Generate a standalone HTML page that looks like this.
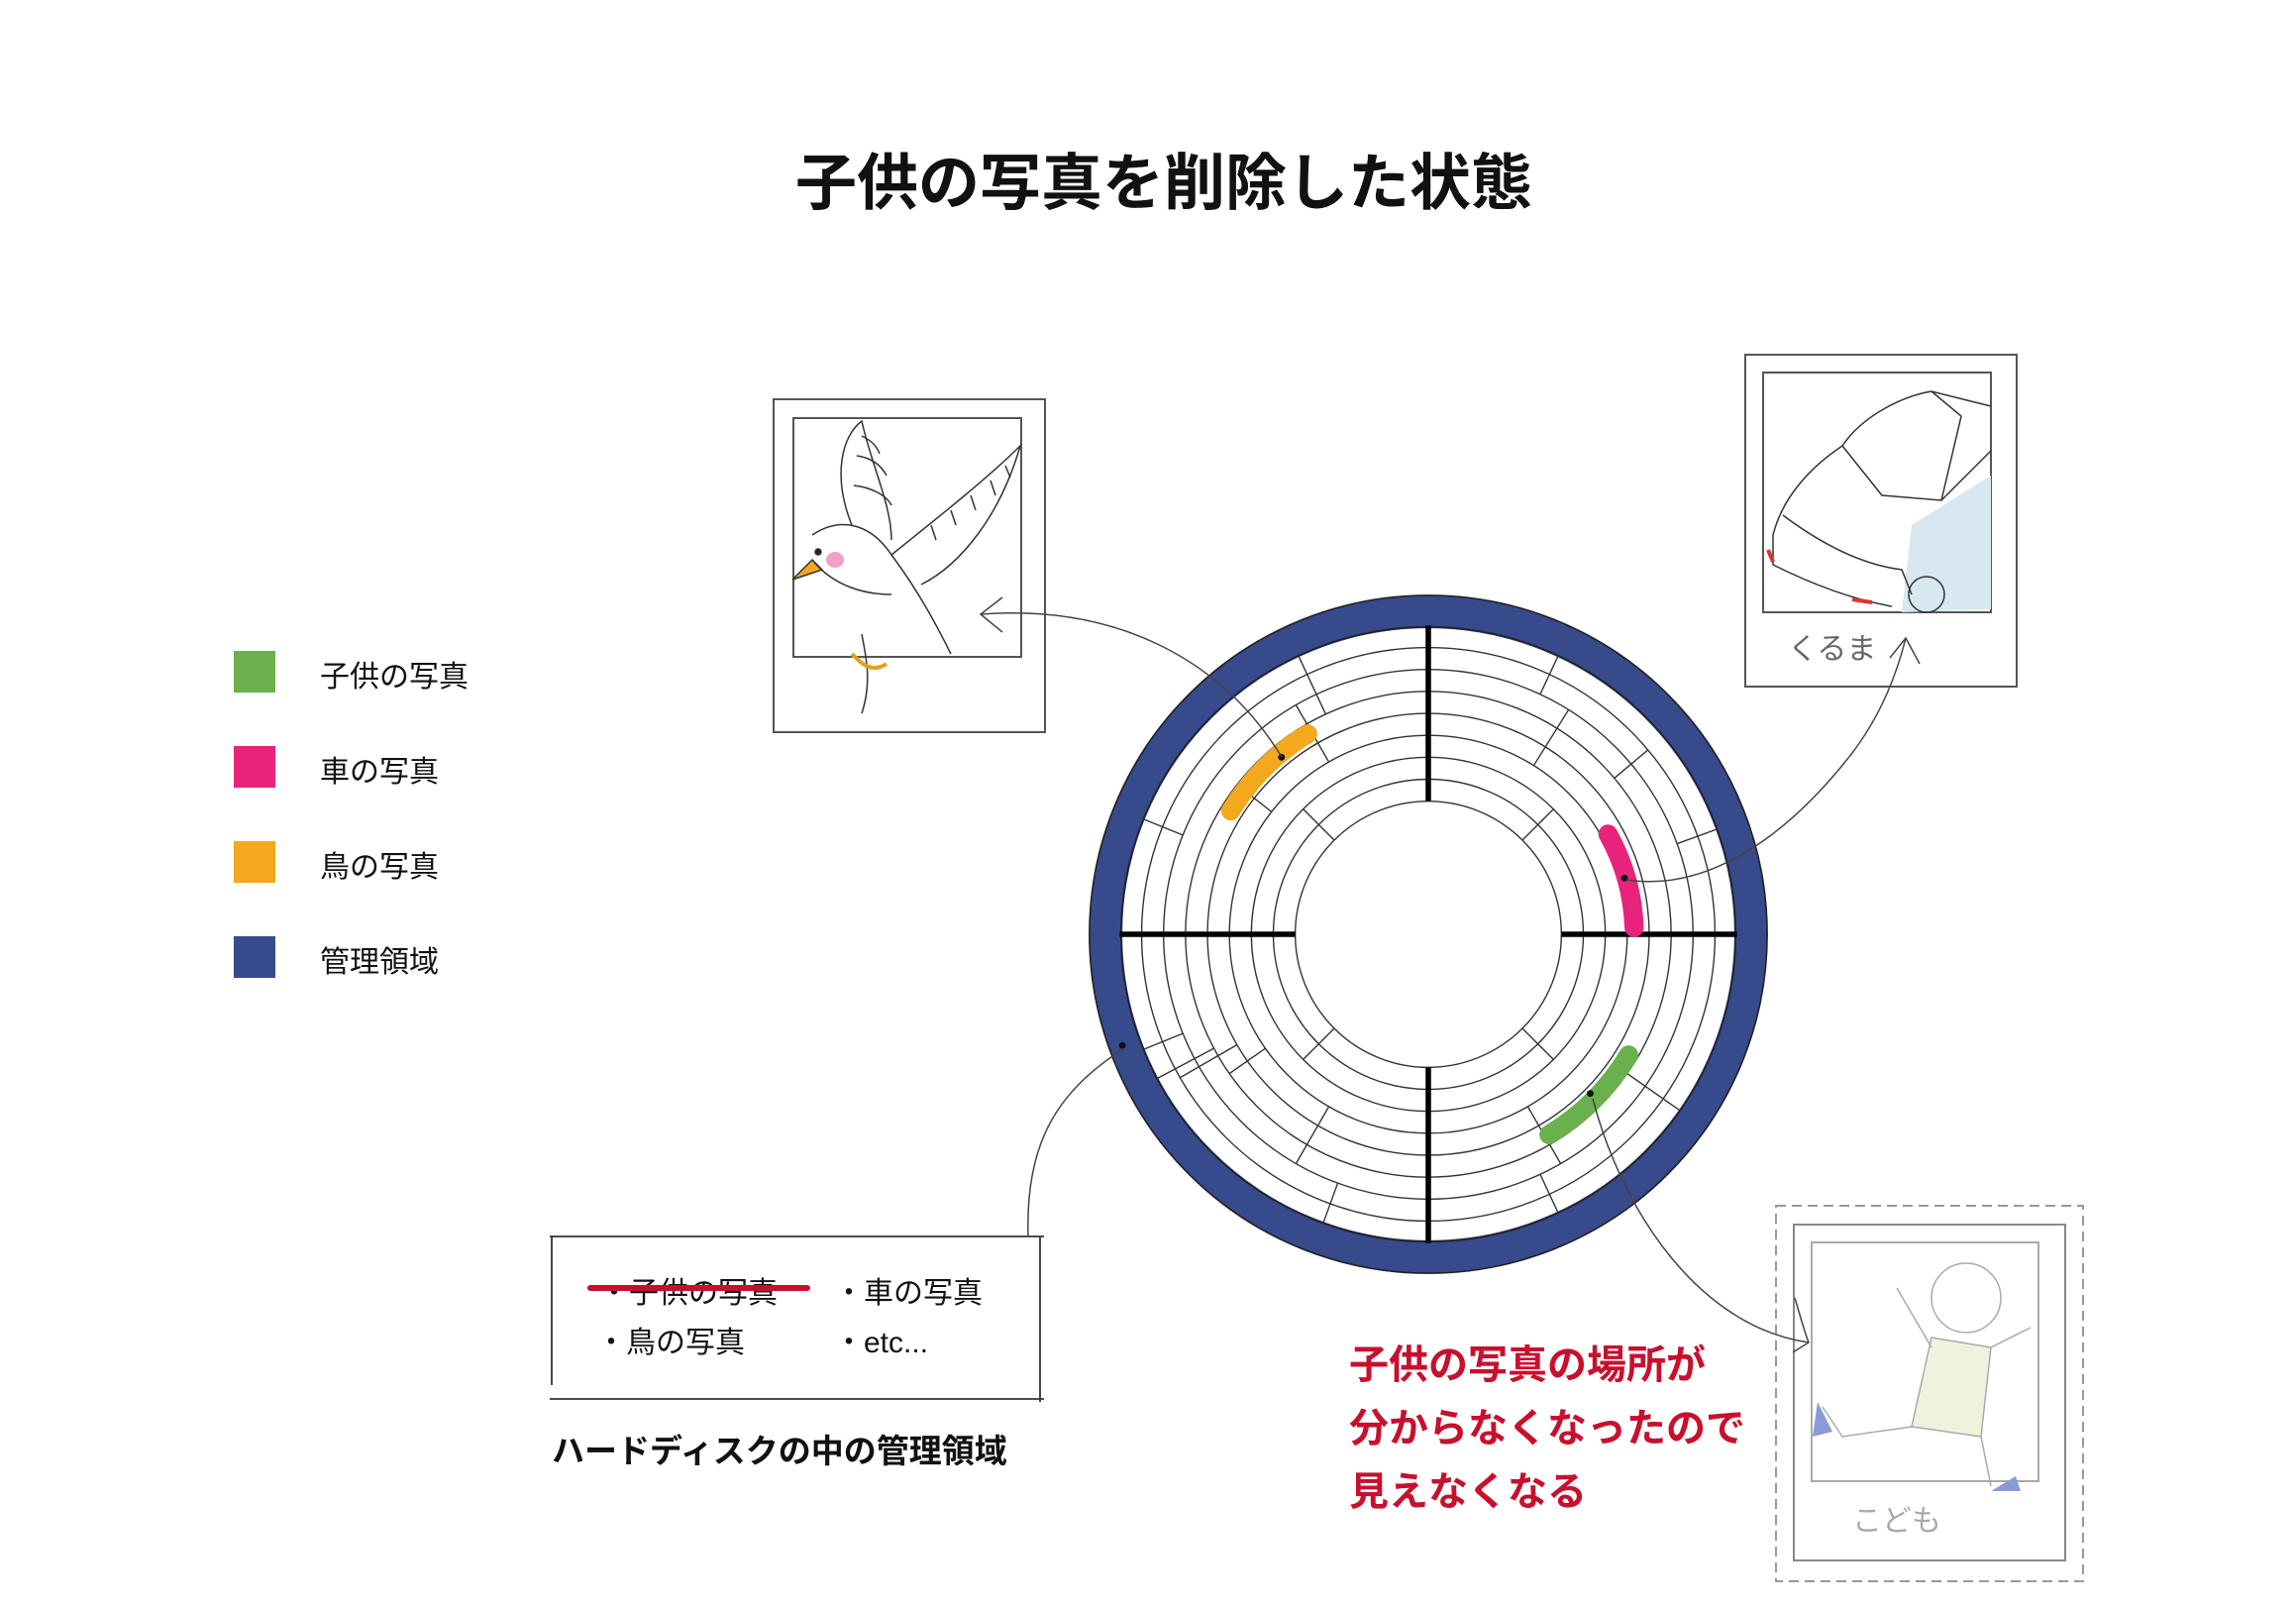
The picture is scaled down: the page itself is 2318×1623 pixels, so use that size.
<!DOCTYPE html>
<html><head><meta charset="utf-8"><style>
body{margin:0;background:#fff;width:2318px;height:1623px;overflow:hidden;position:relative;font-family:"Liberation Sans","Noto Sans CJK JP",sans-serif;}
.t{position:absolute;white-space:nowrap;color:#111;}
.sq{position:absolute;left:236px;width:42px;height:42px;}
</style></head><body>
<div class="t" style="left:0;width:2350px;text-align:center;top:134px;font-size:62px;font-weight:bold;">子供の写真を削除した状態</div>

<div class="sq" style="top:657px;background:#6ab04c"></div>
<div class="sq" style="top:753px;background:#e8237b"></div>
<div class="sq" style="top:849px;background:#f4a81d"></div>
<div class="sq" style="top:945px;background:#374a8c"></div>
<div class="t" style="left:323px;top:658px;font-size:30px;">子供の写真</div>
<div class="t" style="left:323px;top:754px;font-size:30px;">車の写真</div>
<div class="t" style="left:323px;top:850px;font-size:30px;">鳥の写真</div>
<div class="t" style="left:323px;top:946px;font-size:30px;">管理領域</div>

<svg width="2318" height="1623" style="position:absolute;left:0;top:0" fill="none" stroke="#222" stroke-width="2">
<!-- bird photo -->
<rect x="781" y="403" width="274" height="336" stroke="#555"/>
<rect x="801" y="422" width="230" height="241" stroke="#555"/>
<g stroke="#333" stroke-width="1.5">
<path d="M820 540 C850 520 880 530 900 560 C930 600 950 640 960 660"/>
<path d="M800 585 L820 565 L830 575 Z" fill="#f4a81d"/>
<path d="M820 565 C840 590 870 600 900 600"/>
<path d="M860 530 C840 480 850 440 870 425 C880 470 900 510 900 545"/>
<path d="M865 460 C880 462 890 470 895 480 M862 490 C880 492 895 500 900 510 M870 440 C880 445 885 450 888 458"/>
<path d="M900 560 C950 520 1000 480 1030 450 C1010 520 970 570 930 590"/>
<path d="M940 530 l5 15 M960 515 l5 15 M980 500 l5 15 M1000 485 l5 15 M1015 470 l5 12"/>
<path d="M870 640 C875 665 880 690 870 720"/>
<ellipse cx="843" cy="565" rx="9" ry="8" fill="#f2a0c8" stroke="none"/>
<circle cx="826" cy="557" r="3" fill="#222"/>
<path d="M860 660 C870 670 880 680 895 670" stroke="#e0a020" stroke-width="4"/>
</g>
<!-- car photo -->
<rect x="1762" y="358" width="274" height="335" stroke="#555"/>
<rect x="1780" y="376" width="230" height="242" stroke="#555"/>
<g stroke="#333" stroke-width="1.5">
<path d="M1930 530 L2010 480 L2010 615 L1920 618 Z" fill="#d8e8f0" stroke="none"/>
<path d="M1790 540 C1800 500 1830 470 1860 450 C1880 420 1920 400 1950 395 L2010 410"/>
<path d="M1860 450 L1900 500 L1960 505 L2010 455"/>
<path d="M1950 395 L1980 420 L1960 505"/>
<path d="M1790 540 L1790 570 C1830 590 1870 605 1910 612"/>
<path d="M1800 520 C1840 550 1880 570 1920 575 L1930 600"/>
<circle cx="1945" cy="600" r="18"/>
<path d="M1785 555 l5 12" stroke="#d33" stroke-width="4"/>
<path d="M1870 605 l20 3" stroke="#d33" stroke-width="4"/>
</g>
<text x="1805" y="665" font-size="30" fill="#666" stroke="none" font-family="Noto Sans CJK JP">くるま</text>
<!-- kid photo -->
<rect x="1793" y="1217" width="310" height="379" stroke="#999" stroke-dasharray="10 6"/>
<rect x="1811" y="1236" width="274" height="339" stroke="#888"/>
<rect x="1829" y="1254" width="229" height="241" stroke="#aaa"/>
<g stroke="#aaa" stroke-width="1.5">
<circle cx="1985" cy="1310" r="35"/>
<path d="M1950 1350 L1930 1440 L2000 1450 L2010 1360 Z" fill="#eef3dd"/>
<path d="M1930 1440 L1860 1450 L1840 1420"/>
<path d="M2000 1450 L2010 1500"/>
<path d="M1950 1360 L1915 1300 M2010 1360 L2050 1340"/>
</g>
<path d="M1835 1415 l15 30 l-20 5 z" fill="#8a9ad8" stroke="none"/>
<path d="M2010 1505 l25 -15 l5 15 z" fill="#8a9ad8" stroke="none"/>
<text x="1870" y="1545" font-size="30" fill="#aaa" stroke="none" font-family="Noto Sans CJK JP">こども</text>

<!-- disk -->
<g transform="translate(1442 943) scale(1.385) translate(-1330 -837)">
<circle cx="1330" cy="837" r="235" stroke="#374a8c" stroke-width="24"/>
<circle cx="1330" cy="837" r="247" stroke="#222" stroke-width="1.2"/>
<circle cx="1330" cy="837" r="224" stroke="#222" stroke-width="1.2"/>
<g stroke="#333" stroke-width="1">
<circle cx="1330" cy="837" r="209"/><circle cx="1330" cy="837" r="193"/>
<circle cx="1330" cy="837" r="177"/><circle cx="1330" cy="837" r="161"/>
<circle cx="1330" cy="837" r="145"/><circle cx="1330" cy="837" r="129"/>
<circle cx="1330" cy="837" r="113"/><circle cx="1330" cy="837" r="97"/>
</g>
<g transform="translate(1330 837)" stroke="#333" stroke-width="1">
<line x1="0" y1="-209" x2="0" y2="-224" transform="rotate(-25)"/>
<line x1="0" y1="-177" x2="0" y2="-209" transform="rotate(-25)"/>
<line x1="0" y1="-145" x2="0" y2="-177" transform="rotate(-52)"/>
<line x1="0" y1="-97" x2="0" y2="-129" transform="rotate(-45)"/>
<line x1="0" y1="-193" x2="0" y2="-224" transform="rotate(-68)"/>
<line x1="0" y1="-145" x2="0" y2="-193" transform="rotate(-30)"/>
<line x1="0" y1="-193" x2="0" y2="-224" transform="rotate(25)"/>
<line x1="0" y1="-145" x2="0" y2="-193" transform="rotate(32)"/>
<line x1="0" y1="-97" x2="0" y2="-129" transform="rotate(45)"/>
<line x1="0" y1="-177" x2="0" y2="-209" transform="rotate(50)"/>
<line x1="0" y1="-193" x2="0" y2="-224" transform="rotate(70)"/>
<line x1="0" y1="-97" x2="0" y2="-129" transform="rotate(135)"/>
<line x1="0" y1="-145" x2="0" y2="-193" transform="rotate(150)"/>
<line x1="0" y1="-193" x2="0" y2="-224" transform="rotate(155)"/>
<line x1="0" y1="-177" x2="0" y2="-224" transform="rotate(125)"/>
<line x1="0" y1="-97" x2="0" y2="-129" transform="rotate(-135)"/>
<line x1="0" y1="-145" x2="0" y2="-193" transform="rotate(-150)"/>
<line x1="0" y1="-193" x2="0" y2="-224" transform="rotate(-160)"/>
<line x1="0" y1="-161" x2="0" y2="-209" transform="rotate(-120)"/>
<line x1="0" y1="-177" x2="0" y2="-224" transform="rotate(-118)"/>
<line x1="0" y1="-145" x2="0" y2="-177" transform="rotate(-125)"/>
<line x1="0" y1="-193" x2="0" y2="-224" transform="rotate(-112)"/>
</g>
<g stroke="#000" stroke-width="4">
<line x1="1330" y1="612" x2="1330" y2="740"/>
<line x1="1330" y1="934" x2="1330" y2="1062"/>
<line x1="1105" y1="837" x2="1233" y2="837"/>
<line x1="1427" y1="837" x2="1555" y2="837"/>
</g>
<g stroke-width="14" stroke-linecap="round">
<path d="M1186 747 A170 170 0 0 1 1242 691" stroke="#f4a81d"/>
<path d="M1461 764 A150 150 0 0 1 1480 832" stroke="#e8237b"/>
<path d="M1476 925 A170 170 0 0 1 1418 983" stroke="#6ab04c"/>
</g>
<g fill="#111" stroke="none">
<circle cx="1223" cy="708" r="2.5"/><circle cx="1473" cy="796" r="2.5"/>
<circle cx="1448" cy="953" r="2.5"/><circle cx="1107" cy="918" r="2.5"/>
</g>
</g>
<!-- connectors -->
<g stroke="#444" stroke-width="1.5">
<path d="M1294 764 C1230 660 1120 610 990 620"/>
<path d="M1012 603 L990 620 L1012 638"/>
<path d="M1642 888 C1720 900 1800 850 1870 760 C1900 720 1915 680 1924 644"/>
<path d="M1908 664 L1924 644 L1938 670"/>
<path d="M1608 1109 C1640 1230 1720 1340 1826 1355"/>
<path d="M1812 1310 C1818 1330 1822 1345 1826 1355 L1810 1365"/>
<path d="M1135 1058 C1070 1100 1035 1150 1038 1247"/>
</g>
<!-- mgmt box -->
<g stroke="#333" stroke-width="1.8">
<line x1="555" y1="1248" x2="1054" y2="1248"/>
<line x1="555" y1="1412" x2="1054" y2="1412"/>
<line x1="557" y1="1248" x2="557" y2="1398"/>
<line x1="1050" y1="1248" x2="1050" y2="1415"/>
</g>
</svg>

<div class="t" style="left:605px;top:1280px;font-size:30px;">・子供の写真</div>
<div style="position:absolute;left:593px;top:1297px;width:225px;height:6px;border-radius:3px;background:#c8102e;"></div>
<div class="t" style="left:842px;top:1280px;font-size:30px;">・車の写真</div>
<div class="t" style="left:602px;top:1330px;font-size:30px;">・鳥の写真</div>
<div class="t" style="left:842px;top:1330px;font-size:30px;">・etc...</div>
<div class="t" style="left:557px;top:1438px;font-size:33px;font-weight:bold;">ハードディスクの中の管理領域</div>

<div class="t" style="left:1362px;top:1346px;font-size:40px;font-weight:bold;color:#c8102e;line-height:64px;">子供の写真の場所が<br>分からなくなったので<br>見えなくなる</div>
</body></html>
